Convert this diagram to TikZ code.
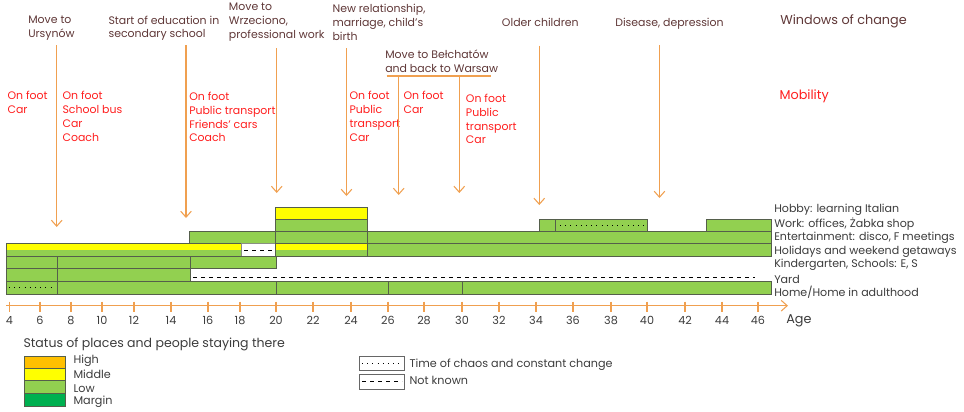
\documentclass[tikz,border=0pt]{standalone}
\usepackage{fontspec}
\setmainfont{Poppins}
\usetikzlibrary{arrows.meta}
\definecolor{lowgreen}{RGB}{146,208,80}
\definecolor{midyellow}{RGB}{255,255,0}
\definecolor{highorange}{RGB}{255,192,0}
\definecolor{margingreen}{RGB}{0,176,80}
\definecolor{arrorange}{RGB}{240,160,80}
\definecolor{browntxt}{RGB}{95,55,55}
\definecolor{redtxt}{RGB}{255,30,30}
\definecolor{graytxt}{RGB}{60,60,60}
\definecolor{barline}{RGB}{85,95,75}
\newcommand\ftop{\fontsize{8.2}{10.4}\selectfont}
\newcommand\frow{\fontsize{8.3}{10}\selectfont}
\newcommand\fhead{\fontsize{9.6}{11}\selectfont}
\newcommand\fleg{\fontsize{8.4}{10}\selectfont}
\newcommand\flegt{\fontsize{9.4}{11}\selectfont}
\tikzset{
  bar/.style={draw=barline, line width=0.6pt, fill=lowgreen},
  ybar/.style={draw=barline, line width=0.6pt, fill=midyellow},
  wbar/.style={draw=barline!70, line width=0.6pt, fill=white},
  win/.style={anchor=north west, inner sep=0pt, align=left, text=browntxt, font=\ftop},
  mob/.style={anchor=north west, inner sep=0pt, align=left, text=redtxt, font=\ftop},
  rowlab/.style={anchor=west, inner sep=0pt, text=graytxt, font=\frow},
  ticklab/.style={inner sep=0pt, text=graytxt, font=\fleg},
  legtxt/.style={anchor=west, inner sep=0pt, text=graytxt, font=\fleg},
  warrow/.style={draw=arrorange, line width=0.8pt, -{Straight Barb[length=4.5pt,width=8pt]}},
  wline/.style={draw=arrorange, line width=0.8pt},
  dotl/.style={draw=black, line width=0.7pt, dash pattern=on 0.7pt off 3.2pt},
  dashl/.style={draw=black, line width=0.7pt, dash pattern=on 3pt off 3pt},
}
\begin{document}
\begin{tikzpicture}[x=0.75pt,y=-0.75pt]
\useasboundingbox (0,0) rectangle (964,411);

% ---------- Windows of change labels ----------
\node[win] (w1) at (28,15.5) {Move to\\Ursynów};
\node[win] (w2) at (108.3,15.5) {Start of education in\\secondary school};
\node[win] (w3) at (228.7,2.8) {Move to\\Wrzeciono,\\professional work};
\node[win] (w4) at (332.3,3.8) {New relationship,\\marriage, child’s\\birth};
\node[win] (w5) at (385,49.5) {Move to Bełchatów\\and back to Warsaw};
\node[win] (w6) at (501.7,18.2) {Older children};
\node[win] (w7) at (615,18.2) {Disease, depression};
\node[anchor=west, inner sep=0pt, text=browntxt, font=\fhead] (wtitle) at (780,21) {Windows of change};

% ---------- Mobility labels ----------
\node[mob] (m1) at (7.3,91) {On foot\\Car};
\node[mob] (m2) at (62.3,91) {On foot\\School bus\\Car\\Coach};
\node[mob] (m3) at (189,91.7) {On foot\\Public transport\\Friends’ cars\\Coach};
\node[mob] (m4) at (349.3,91) {On foot\\Public\\transport\\Car};
\node[mob] (m5) at (403.3,91) {On foot\\Car};
\node[mob] (m6) at (465.7,93.7) {On foot\\Public\\transport\\Car};
\node[anchor=west, inner sep=0pt, text=redtxt, font=\fhead] (mtitle) at (779.3,96) {Mobility};

% ---------- arrows ----------
\coordinate (a1s) at (56.7,45);   \coordinate (a1e) at (56.7,227);
\coordinate (a2s) at (186,45);    \coordinate (a2e) at (186,218);
\coordinate (a3s) at (276.7,48);  \coordinate (a3e) at (276.7,193);
\coordinate (a4s) at (346.5,48);  \coordinate (a4e) at (346.5,196);
\coordinate (a5s) at (398.7,76);  \coordinate (a5e) at (398.7,195);
\coordinate (a6s) at (459.3,76);  \coordinate (a6e) at (459.3,193);
\coordinate (a7s) at (539.3,45.7);\coordinate (a7e) at (539.3,205);
\coordinate (a8s) at (659.5,45);  \coordinate (a8e) at (659.5,198);
\coordinate (hbl) at (386.7,76);  \coordinate (hbr) at (490.7,76);
\draw[wline] (hbl) -- (hbr);
\foreach \i in {1,...,8} { \draw[warrow] (a\i s) -- (a\i e); }

% ---------- rows ----------
% Hobby
\draw[ybar] (275,207.3) rectangle (367.5,219.3);
% Work
\draw[bar] (275,219.3) rectangle (367.5,231.5);
\draw[bar] (539.3,219.3) rectangle (555.7,231.5);
\draw[bar] (555.7,219.3) rectangle (647.3,231.5);
\draw[dotl] (560,225.4) -- (645,225.4);
\draw[bar] (706.7,219.3) rectangle (771,231.5);
% Entertainment
\draw[bar] (189.3,231.5) rectangle (275,243.4);
\draw[bar] (275,231.5) rectangle (367.5,243.4);
\draw[bar] (367.5,231.5) rectangle (771,243.4);
% Holidays
\fill[lowgreen] (6,243.4) rectangle (241,256);
\fill[midyellow] (6,243.4) rectangle (241,250);
\draw[barline, line width=0.6pt] (6,243.4) rectangle (241,256);
\draw[wbar] (241,243.4) rectangle (275,256);
\draw[dashl] (244,250) -- (272,250);
\fill[lowgreen] (275,243.4) rectangle (367.5,256);
\fill[midyellow] (275,243.4) rectangle (367.5,250);
\draw[barline, line width=0.6pt] (275,243.4) rectangle (367.5,256);
\draw[bar] (367.5,243.4) rectangle (771,256);
% Kindergarten
\draw[bar] (6,256) rectangle (57.3,268.6);
\draw[bar] (57.3,256) rectangle (190.7,268.6);
\draw[bar] (190.7,256) rectangle (276,268.6);
% Yard
\draw[bar] (6,268.6) rectangle (57.3,281.3);
\draw[bar] (57.3,268.6) rectangle (190.7,281.3);
\coordinate (yds) at (193,277.3); \coordinate (yde) at (755,277.3);
\draw[dashl] (yds) -- (yde);
% Home
\draw[bar] (6,281.3) rectangle (57.3,294);
\draw[dotl] (9,287.7) -- (55,287.7);
\draw[bar] (57.3,281.3) rectangle (276,294);
\draw[bar] (276,281.3) rectangle (388,294);
\draw[bar] (388,281.3) rectangle (462,294);
\draw[bar] (462,281.3) rectangle (771,294);

% ---------- row labels ----------
\node[rowlab] (r1) at (774,210) {Hobby: learning Italian};
\node[rowlab] (r2) at (774,224) {Work: offices, Żabka shop};
\node[rowlab] (r3) at (774,237.7) {Entertainment: disco, F meetings};
\node[rowlab] (r4) at (774,251.5) {Holidays and weekend getaways};
\node[rowlab] (r5) at (774,265) {Kindergarten, Schools: E, S};
\node[rowlab] (r6) at (774,279) {Yard};
\node[rowlab] (r7) at (774,292.3) {Home/Home in adulthood};

% ---------- axis ----------
\coordinate (ax0) at (6,305.7); \coordinate (ax1) at (788,305.7);
\draw[warrow] (ax0) -- (ax1);
\foreach \x/\t in {9.3/4,40/6,71/8,102/10,134/12,171/14,208/16,240/18,276/20,313/22,351/24,388/26,424/28,462/30,499/32,536/34,573/36,611/38,647/40,685/42,722/44,758/46} {
  \draw[wline] (\x,301.5) -- (\x,311.5);
  \node[ticklab] at (\x,320) {\t};
}
\node[anchor=west, inner sep=0pt, text=graytxt, font=\fhead] (age) at (786,321) {Age};

% ---------- legend ----------
\node[anchor=west, inner sep=0pt, text=graytxt, font=\flegt] (lt) at (23.3,344) {Status of places and people staying there};
\draw[barline, line width=0.6pt, fill=highorange] (24,356.7) rectangle (65.3,368.3);
\draw[barline, line width=0.6pt, fill=midyellow] (24,368.3) rectangle (65.3,380.7);
\draw[barline, line width=0.6pt, fill=lowgreen] (24,380.7) rectangle (65.3,393.3);
\draw[barline, line width=0.6pt, fill=margingreen] (24,393.3) rectangle (65.3,406);
\node[legtxt] (lh) at (73.3,360.7) {High};
\node[legtxt] (lm) at (73.3,374.3) {Middle};
\node[legtxt] (ll) at (73.3,388.3) {Low};
\node[legtxt] (lg) at (73.3,401.7) {Margin};
\draw[black!60, line width=0.6pt] (359.3,356.7) rectangle (404,370.7);
\draw[dotl] (362,363.7) -- (402,363.7);
\draw[black!60, line width=0.6pt] (359.3,374.3) rectangle (404,389.3);
\draw[dashl] (362,381.8) -- (402,381.8);
\node[legtxt] (lc) at (409.3,364.3) {Time of chaos and constant change};
\node[legtxt] (ln) at (409.3,380) {Not known};
\end{tikzpicture}
\end{document}
